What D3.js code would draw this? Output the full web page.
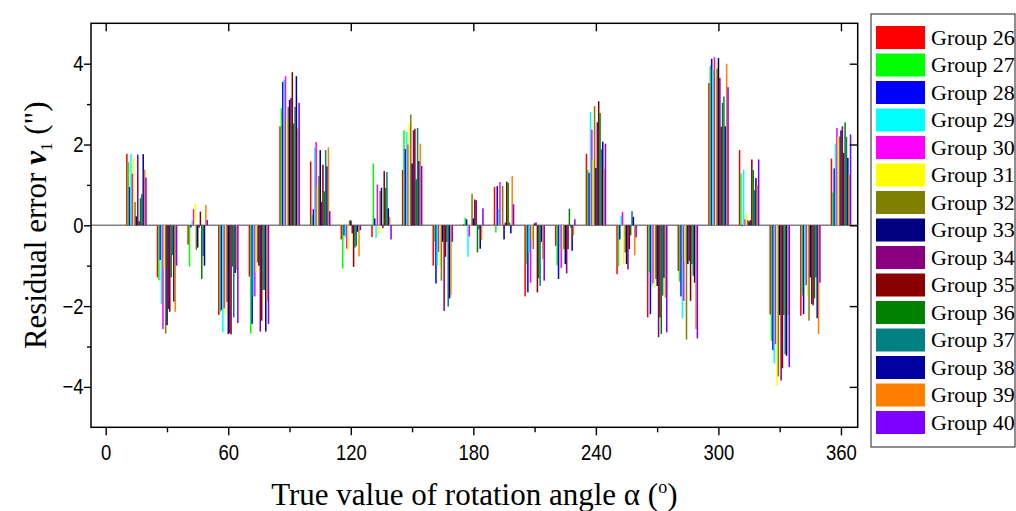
<!DOCTYPE html>
<html>
<head>
<meta charset="utf-8">
<script src="https://cdn.jsdelivr.net/npm/d3@7"></script>
<style>
  body { margin: 0; background: #fff; }
  svg { display: block; }
  .tick-lbl { font-family: "Liberation Sans", Arial, sans-serif; font-size: 22px; fill: #000; }
  .ttl { font-family: "Liberation Serif", "Times New Roman", serif; fill: #000; }
</style>
</head>
<body>
<div id="chart"></div>
<script>
'use strict';

let width = 1016;
let height = 511;
let margin = { top: 23.3, bottom: 511 - 427.3, left: 91, right: 1016 - 857.7 };

// rotation angles (deg)
const angles = [15, 30, 45, 60, 75, 90, 105, 120, 135, 150, 165, 180,
    195, 210, 225, 240, 255, 270, 285, 300, 315, 330, 345, 360];

const groups = ["Group 26", "Group 27", "Group 28", "Group 29", "Group 30",
    "Group 31", "Group 32", "Group 33", "Group 34", "Group 35",
    "Group 36", "Group 37", "Group 38", "Group 39", "Group 40"];

const colors = ["#ff0000", "#00ff00", "#0000ff", "#00ffff", "#ff00ff",
    "#ffff00", "#808000", "#000080", "#880080", "#880000",
    "#008000", "#008080", "#0000a0", "#ff8000", "#8000ff"];

// residual error per group, one value per angle
const g26 = [1.77, -1.29, -0.48, -2.22, -1.27, 2.45, 1.58, -0.35, -0.29, 1.37, -1.0, 0.03, 0.95, -1.76, -0.51, 1.77, -1.21, -2.28, -1.13, 3.52, 1.86, -2.21, -2.24, 1.65];
const g27 = [1.57, -1.36, -1.02, -2.14, -2.68, 2.9, 0.27, -1.07, 1.53, 2.35, -0.41, 0.19, -0.18, -0.96, -0.99, 1.38, -1.02, -1.15, -1.4, 3.95, 1.28, -2.86, -1.74, 0.81];
const g28 = [0.95, -0.86, -0.05, -2.1, -2.44, 3.55, 0.4, -0.25, 0.17, 1.89, -1.44, 0.15, 0.97, -1.66, -1.33, 1.3, -0.35, -2.2, -1.76, 4.12, -0.02, -3.09, -2.2, 1.41];
const g29 = [1.77, -1.95, 0.12, -2.65, -1.76, 3.6, 1.92, -0.3, -0.32, 2.31, -1.0, -0.78, 0.4, -0.67, -0.55, 2.8, 0.23, -1.5, -2.3, 3.84, 1.38, -3.42, -1.5, 2.02];
const g30 = [1.28, -2.57, 0.4, -2.06, -1.76, 3.69, 2.06, -0.58, 1.01, 2.0, -0.66, -0.28, 1.07, -1.42, -1.05, 2.37, 0.33, -1.43, -1.87, 4.16, 0.15, -2.94, -1.48, 2.41];
const g31 = [1.65, -1.08, 0.53, -2.2, -1.17, 2.62, 0.97, -0.63, -0.22, 2.52, -1.02, 0.05, 0.02, -0.35, -0.67, 1.63, -0.96, -1.54, -0.92, 4.06, 0.3, -3.97, -1.76, 2.2];
const g32 = [0.58, -2.68, -0.61, -1.9, -0.92, 2.93, 1.22, 0.12, 0.85, 2.74, -1.37, 0.78, 0.97, -0.59, -0.59, 2.95, -0.67, -1.33, -2.83, 3.88, 0.13, -3.74, -2.36, 2.2];
const g33 = [0.22, -2.47, -0.55, -2.69, -1.0, 3.1, 1.86, 0.12, 0.93, 1.53, -0.41, 0.17, -0.35, 0.05, -0.96, 1.42, -0.96, -1.5, -0.96, 4.14, 0.1, -2.22, -1.29, 2.35];
const g34 = [1.75, -2.07, -0.06, -2.67, -2.63, 3.15, 0.58, -0.2, -0.07, 2.35, -2.12, 0.64, 0.07, 0.07, -1.19, 2.55, -1.09, -2.77, -0.88, 3.65, 0.13, -3.84, -1.95, 2.45];
const g35 = [0.1, -2.14, 0.34, -2.7, -2.36, 3.79, 1.5, -1.03, 1.34, 2.39, -0.78, 0.62, 1.08, -1.66, -0.59, 3.07, -0.59, -2.28, -1.87, 2.44, 1.63, -3.54, -1.98, 1.79];
const g36 = [0.67, -1.29, -1.33, -1.02, -1.6, 2.52, 0.84, -0.55, 0.93, 1.14, -0.41, -0.67, 1.05, -1.31, 0.41, 2.78, -0.25, -2.69, -0.96, 3.03, 1.37, -2.22, -1.81, 2.55];
const g37 = [0.77, -0.74, -0.76, -2.28, -1.6, 2.93, 1.86, -0.51, 1.32, 2.41, -2.01, -0.1, 0.07, -1.5, -0.06, 1.88, 0.35, -1.74, -1.25, 3.19, 0.87, -3.19, -1.29, 2.19];
const g38 = [1.76, -1.89, -1.0, -1.18, -2.63, 3.69, 1.46, -0.16, 0.42, 1.59, -1.81, -0.58, -0.2, -0.41, -0.63, 2.07, 0.21, -1.3, -1.42, 2.45, 1.17, -3.23, -2.3, 1.67];
const g39 = [1.38, -2.14, 0.51, -1.1, -1.87, 2.4, 1.93, -0.77, 0.21, 2.02, -1.73, -0.36, 1.22, -0.84, -0.25, 1.4, -0.74, -1.79, -2.57, 4.0, 0.99, -2.22, -2.69, 1.26];
const g40 = [1.18, -1.0, 0.13, -2.42, -2.44, 3.03, 0.35, -0.12, -0.35, 1.47, -0.41, 0.42, 0.52, -1.37, 0.15, 2.02, -0.3, -2.65, -2.8, 3.42, 1.63, -3.51, -1.42, 2.25];

const series = [g26, g27, g28, g29, g30, g31, g32, g33, g34, g35, g36, g37, g38, g39, g40];

const xMajor = [0, 60, 120, 180, 240, 300, 360];
const xMinor = [30, 90, 150, 210, 270, 330];
const yMajor = [-4, -2, 0, 2, 4];
const yMinor = [-3, -1, 1, 3];

const svg = d3.select("#chart")
    .append("svg")
    .attr("width", width)
    .attr("height", height);

const x = d3.scaleLinear()
    .domain([-7.2, 368.2])
    .range([margin.left, width - margin.right]);

const y = d3.scaleLinear()
    .domain([-5, 5])
    .range([height - margin.bottom, margin.top]);

// each cluster is 10 deg wide, bars side by side
const inner = d3.scaleBand()
    .domain(groups)
    .range([-5, 5]);

const rows = [];
series.forEach((vals, gi) => {
    vals.forEach((v, ai) => rows.push({ group: groups[gi], color: colors[gi], angle: angles[ai], value: v }));
});

// zero line
svg.append("line")
    .attr("x1", x(-7.2)).attr("x2", x(368.2))
    .attr("y1", y(0)).attr("y2", y(0))
    .attr("stroke", "#808080")
    .attr("stroke-width", 1.6);

svg.append("g")
    .selectAll("rect")
    .data(rows)
    .join("rect")
    .attr("x", d => x(d.angle + inner(d.group)))
    .attr("width", x(inner.bandwidth()) - x(0) + 0.15)
    .attr("y", d => y(Math.max(0, d.value)))
    .attr("height", d => Math.abs(y(d.value) - y(0)))
    .attr("fill", d => d.color);

// axes
const axStyle = g => {
    g.select(".domain").remove();
    g.selectAll(".tick line").attr("stroke", "#000").attr("stroke-width", 1.4);
};

// tick labels in the original are a narrow sans
const narrow = g => g.selectAll("text")
    .attr("class", "tick-lbl")
    .attr("font-size", null)
    .attr("font-family", null)
    .attr("transform", "scale(0.84,1)");

svg.append("g")
    .attr("transform", `translate(0,${y(-5)})`)
    .call(d3.axisBottom(x).tickValues(xMajor).tickSize(8).tickPadding(9).tickFormat(d3.format("d")))
    .call(axStyle)
    .call(narrow);

svg.append("g")
    .attr("transform", `translate(0,${y(-5)})`)
    .call(d3.axisBottom(x).tickValues(xMinor).tickSize(5).tickFormat(""))
    .call(axStyle);

svg.append("g")
    .attr("transform", `translate(0,${y(5)})`)
    .call(d3.axisBottom(x).tickValues(xMajor).tickSize(8).tickFormat(""))
    .call(axStyle);

svg.append("g")
    .attr("transform", `translate(${x(-7.2)},0)`)
    .call(d3.axisLeft(y).tickValues(yMajor).tickSize(7).tickPadding(2).tickFormat(d3.format("d")))
    .call(axStyle)
    .call(narrow);

svg.append("g")
    .attr("transform", `translate(${x(-7.2)},0)`)
    .call(d3.axisLeft(y).tickValues(yMinor).tickSize(4).tickFormat(""))
    .call(axStyle);

svg.append("g")
    .attr("transform", `translate(${x(368.2)},0)`)
    .call(d3.axisLeft(y).tickValues(yMajor).tickSize(8).tickFormat(""))
    .call(axStyle);

// frame
svg.append("rect")
    .attr("x", x(-7.2)).attr("y", y(5))
    .attr("width", x(368.2) - x(-7.2))
    .attr("height", y(-5) - y(5))
    .attr("fill", "none")
    .attr("stroke", "#000")
    .attr("stroke-width", 1.5);

// axis titles
svg.append("text")
    .attr("class", "ttl")
    .attr("x", (x(-7.2) + x(368.2)) / 2)
    .attr("y", 505)
    .attr("text-anchor", "middle")
    .attr("font-size", 31)
    .html('True value of rotation angle α (<tspan font-size="18" dy="-12">o</tspan><tspan dy="12">)</tspan>');

svg.append("text")
    .attr("class", "ttl")
    .attr("transform", `translate(46,${y(0)}) rotate(-90)`)
    .attr("text-anchor", "middle")
    .attr("font-size", 31)
    .html('Residual error <tspan font-weight="bold" font-style="italic">v</tspan><tspan font-size="17" dy="6">1</tspan><tspan dy="-6"> (")</tspan>');

// legend
const legend = svg.append("g");
legend.append("rect")
    .attr("x", 871).attr("y", 14)
    .attr("width", 144).attr("height", 433)
    .attr("fill", "#fff")
    .attr("stroke", "#444")
    .attr("stroke-width", 1.2);

const item = legend.selectAll("g.item")
    .data(groups)
    .join("g")
    .attr("class", "item")
    .attr("transform", (d, i) => `translate(876,${26 + i * 27.5})`);

item.append("rect")
    .attr("width", 49).attr("height", 23)
    .attr("fill", (d, i) => colors[i]);

item.append("text")
    .attr("class", "ttl")
    .attr("x", 55)
    .attr("y", 18.5)
    .attr("font-size", 22)
    .text(d => d);
</script>
</body>
</html>
